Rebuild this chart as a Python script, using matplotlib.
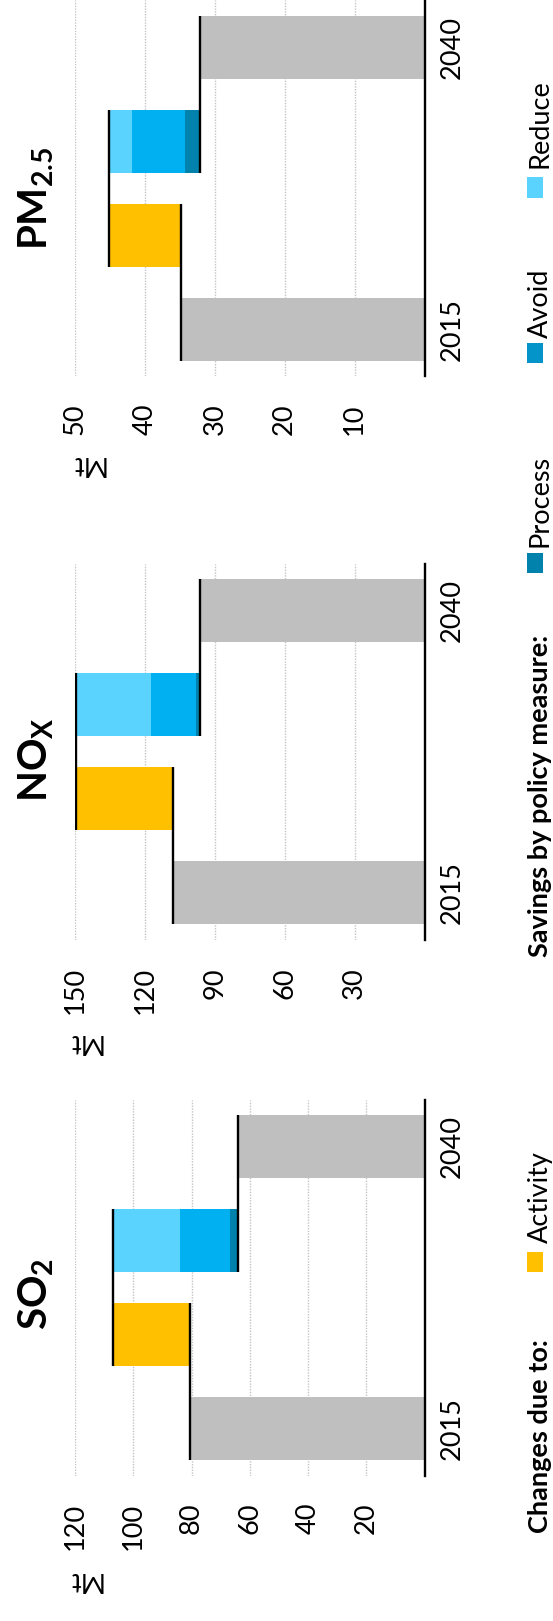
import matplotlib
matplotlib.use("Agg")
import matplotlib.pyplot as plt
from matplotlib.patches import Rectangle

plt.rcParams['font.family'] = ['Lato', 'DejaVu Sans']
plt.rcParams['mathtext.fontset'] = 'custom'
plt.rcParams['mathtext.bf'] = 'Lato:bold'
plt.rcParams['mathtext.rm'] = 'Lato'
plt.rcParams['mathtext.it'] = 'Lato:italic'

# ---- data (Mt) ----
titles = [r'$\mathbf{PM_{2.5}}$', r'$\mathbf{NO_X}$', r'$\mathbf{SO_2}$']
years = ['2015', '2040']
emissions_2015 = [34.8, 107.8, 80.4]
activity = [10.3, 41.6, 26.7]
reduce_savings = [3.3, 32.2, 23.1]
avoid_savings = [7.6, 19.1, 17.2]
process_savings = [2.1, 1.8, 2.6]
emissions_2040 = [32.1, 96.3, 64.2]
value_max = [50, 150, 120]
tick_step = [10, 30, 20]

# ---- colours ----
C_GREY = '#bfbfbf'
C_ACT = '#ffc000'
C_RED = '#5bd3ff'
C_AVO = '#00b0f0'
C_PRO = '#0082ad'
C_AVO_KEY = '#0494c9'

W, H, DPI = 553, 1621, 100
fig = plt.figure(figsize=(W / DPI, H / DPI), dpi=DPI)


def fx(px):
    return px / W


def fy(py):
    return 1 - py / H


FS = 19.5
BAR_W = 0.67

# panel layout in pixels: top edge of each axes
panel_top = [0.3, 563.7, 1099.5]
panel_h = 376
ax_left, ax_right = 75, 424.5
title_y = [198.5, 760, 1293.5]
mt_pos = [(87, 464), (84, 1041), (84, 1580)]

for i in range(3):
    top = panel_top[i]
    ax = fig.add_axes([fx(ax_left), fy(top + panel_h), (ax_right - ax_left) / W, panel_h / H])
    for s in ax.spines.values():
        s.set_visible(False)

    start = emissions_2015[i]
    peak = start + activity[i]
    after_red = peak - reduce_savings[i]
    after_avo = after_red - avoid_savings[i]
    end = emissions_2040[i]

    # waterfall bars (y position 0..3 bottom to top)
    ax.barh(0, start, height=BAR_W, color=C_GREY, zorder=2)
    ax.barh(1, activity[i], left=start, height=BAR_W, color=C_ACT, zorder=2)
    ax.barh(2, reduce_savings[i], left=after_red, height=BAR_W, color=C_RED, zorder=2)
    ax.barh(2, avoid_savings[i], left=after_avo, height=BAR_W, color=C_AVO, zorder=2)
    ax.barh(2, process_savings[i], left=end, height=BAR_W, color=C_PRO, zorder=2)
    ax.barh(3, end, height=BAR_W, color=C_GREY, zorder=2)

    # connector steps between consecutive bars
    hw = BAR_W / 2
    ax.vlines([start, peak, end], [0 - hw, 1 - hw, 2 - hw], [1 + hw, 2 + hw, 3 + hw],
              colors='black', lw=1.7, zorder=3)
    ax.axvline(0, color='black', lw=1.7, zorder=4, clip_on=False)

    ax.set_xlim(value_max[i], 0)
    ax.set_ylim(-0.5, 3.5)
    ticks = list(range(tick_step[i], value_max[i] + 1, tick_step[i]))
    ax.set_xticks(ticks)
    ax.set_xticklabels([str(t) for t in ticks], rotation=90, fontsize=FS)
    ax.tick_params(axis='x', length=0, pad=19.8)
    ax.xaxis.grid(True, color='#c4c4c4', linestyle=(0, (1, 1)), lw=1.0, zorder=0)
    ax.set_axisbelow(True)

    ax.yaxis.tick_right()
    ax.set_yticks([0, 3])
    ax.set_yticklabels(years, rotation=90, va='center', fontsize=FS)
    ax.tick_params(axis='y', length=0, pad=11.3)

    fig.text(fx(36), fy(title_y[i]), titles[i], rotation=90, ha='center', va='center',
             fontsize=29)
    fig.text(fx(mt_pos[i][0]), fy(mt_pos[i][1]), 'Mt', rotation=180, ha='center',
             va='center', fontsize=FS)

# ---- legend along the right edge ----
BASE_X = 548


def key(y0, y1, color):
    fig.patches.append(Rectangle((fx(527), fy(y1)), 16 / W, (y1 - y0) / H,
                                 transform=fig.transFigure, color=color, lw=0))


def label(y, text, bold=False):
    fig.text(fx(BASE_X), fy(y), text, rotation=90, rotation_mode='anchor',
             ha='left', va='baseline', fontsize=FS,
             fontweight='bold' if bold else 'normal')


label(1533, 'Changes due to:', bold=True)
key(1252, 1272, C_ACT)
label(1243, 'Activity')
label(957, 'Savings by policy measure:', bold=True)
key(553, 573, C_PRO)
label(547, 'Process')
key(343, 363, C_AVO_KEY)
label(338, 'Avoid')
key(177, 198, C_RED)
label(168, 'Reduce')

fig.savefig('out.png', dpi=DPI)
